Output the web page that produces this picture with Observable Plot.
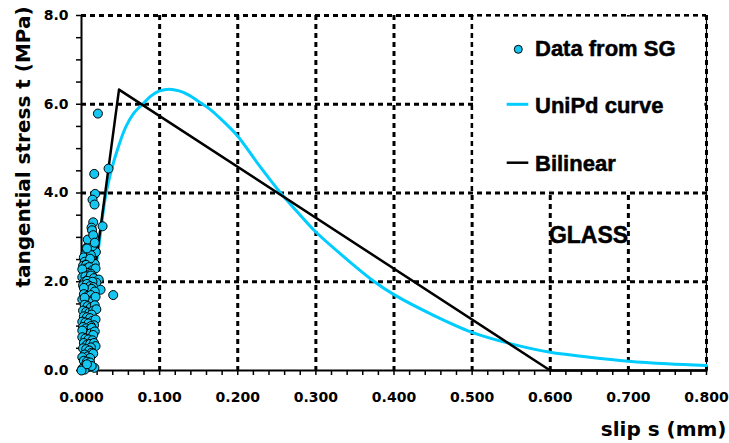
<!DOCTYPE html>
<html><head><meta charset="utf-8">
<script src="https://cdn.jsdelivr.net/npm/d3@7"></script>
<script src="https://cdn.jsdelivr.net/npm/@observablehq/plot@0.6"></script>
<style>body{margin:0;background:#fff}</style>
</head><body><div id="chart"></div>
<script>
// Tick values / labels
const xMajor = [0, 0.1, 0.2, 0.3, 0.4, 0.5, 0.6, 0.7, 0.8];
const yMajor = [0, 2, 4, 6, 8];
const xMinor = d3.range(0, 41).map(i => i * 0.02);
const yMinor = d3.range(0, 17).map(i => i * 0.5);
const xTitle = "slip s (mm)";
const yTitle = "tangential stress t (MPa)";
const legendLabels = ["Data from SG", "UniPd curve", "Bilinear"];
const panelLabel = "GLASS";

// UniPd curve
const uniS = [0, 0.005, 0.01, 0.015, 0.02, 0.025, 0.031, 0.038, 0.047, 0.057, 0.067, 0.078, 0.09, 0.1, 0.112, 0.125, 0.138, 0.15, 0.165, 0.18, 0.2, 0.225, 0.255, 0.28, 0.3, 0.34, 0.375, 0.4, 0.45, 0.5, 0.55, 0.6, 0.65, 0.7, 0.75, 0.8];
const uniT = [0, 0.6, 1.2, 1.85, 2.5, 3.2, 3.95, 4.5, 5.03, 5.5, 5.8, 6.0, 6.2, 6.3, 6.34, 6.3, 6.2, 6.06, 5.88, 5.64, 5.28, 4.68, 4.0, 3.5, 3.12, 2.5, 2.0, 1.71, 1.25, 0.86, 0.6, 0.41, 0.3, 0.21, 0.15, 0.11];

// Bilinear
const biS = [0, 0.048, 0.6, 0.8];
const biT = [0, 6.33, 0, 0];

// Data from SG (slip, stress)
const sgS = [0.021,0.0346,0.0163,0.0175,0.0141,0.0167,0.027,0.015,0.0128,0.0135,0.0163,0.0064,0.012,0.0184,0.0098,
  0.005,0.010,0.014,0.008,0.015,0.003,0.012,0.017,0.007,
  0.004,0.008,0.013,0.017,0.002,0.011,0.006,
  0.006,0.010,0.014,0.003,0.018,0.008,0.012,0.001,
  0.001,0.005,0.009,0.012,0.016,0.022,0.004,0.019,0.007,0.014,
  0.002,0.007,0.011,0.015,0.0244,0.005,0.009,0.013,0.017,0.003,
  0.0406,
  0.003,0.008,0.012,0.016,0.001,0.006,0.010,0.014,0.004,0.018,
  0.004,0.008,0.012,0.017,0.002,0.006,0.010,0.015,0.019,0.013,
  0.003,0.007,0.011,0.014,0.001,0.005,0.009,0.018,0.016,0.012,
  0.002,0.006,0.010,0.013,0.004,0.008,0.012,0.017,0.015,0.001,
  0.001,0.005,0.009,0.014,0.003,0.007,0.011,0.016,0.018,0.012,
  0.002,0.006,0.010,0.013,0.004,0.008,0.015,0.001,0.011,
  0.003,0.007,0.011,0.005,0.009,0.001,0.004,0.0165,0.013,0.000,0.007];
const sgT = [5.79,4.55,4.43,3.98,3.85,3.74,3.25,3.34,3.22,3.16,2.97,2.76,2.71,2.67,2.55,
  2.62,2.85,2.80,2.95,3.05,2.55,2.60,2.88,2.75,
  2.45,2.42,2.48,2.40,2.36,2.52,2.38,
  2.30,2.33,2.26,2.22,2.30,2.20,2.18,2.28,
  2.10,2.12,2.06,2.14,2.08,2.05,2.00,1.98,2.02,2.00,
  1.92,1.95,1.90,1.88,1.82,1.82,1.80,1.84,1.78,1.86,
  1.70,
  1.72,1.68,1.70,1.62,1.60,1.58,1.55,1.56,1.64,1.66,
  1.48,1.45,1.42,1.47,1.35,1.32,1.30,1.35,1.38,1.26,
  1.22,1.20,1.18,1.12,1.10,1.08,1.06,1.15,1.02,1.00,
  0.98,0.95,0.92,0.96,0.85,0.82,0.84,0.88,0.80,0.90,
  0.75,0.72,0.70,0.68,0.62,0.58,0.60,0.62,0.55,0.52,
  0.50,0.48,0.45,0.40,0.36,0.32,0.38,0.30,0.28,
  0.22,0.20,0.18,0.12,0.08,0.04,0.02,0.06,0.10,0.00,0.14];

// Legend box extent (data units)
const legendBox = [{x1: 0.5, x2: 0.8, y1: 4, y2: 8}];

const uni = uniS.map((s, i) => ({s, t: uniT[i]}));
const bi = biS.map((s, i) => ({s, t: biT[i]}));
const sg = sgS.map((s, i) => ({s, t: sgT[i]}));

const isMultiple = (d, step) => Math.abs(d / step - Math.round(d / step)) < 1e-6;
const cyanLine = "#00CCFF";
const cyanDot = "#15C6F0";
const dash = "5,4";

const chart = Plot.plot({
  width: 729, height: 443,
  marginLeft: 81, marginRight: 23, marginTop: 15, marginBottom: 73,
  style: {fontFamily: "DejaVu Sans", fontWeight: "bold", fontSize: "14px", background: "white", color: "black"},
  x: {domain: [0, 0.8]},
  y: {domain: [0, 8]},
  marks: [
    Plot.ruleX(xMajor.slice(1), {stroke: "black", strokeWidth: 3, strokeDasharray: dash}),
    Plot.ruleY(yMajor.slice(1), {stroke: "black", strokeWidth: 3, strokeDasharray: dash}),
    Plot.rect(legendBox, {x1: "x1", x2: "x2", y1: "y1", y2: "y2", fill: "white", insetLeft: 1.6, insetRight: 1.6, insetTop: 1.6, insetBottom: 1.6}),
    Plot.ruleX([0.8], {stroke: "black", strokeWidth: 1.2}),
    Plot.axisX({ticks: xMinor, tickFormat: d => isMultiple(d, 0.1) ? d.toFixed(3) : "", tickSize: 5, tickPadding: 17, strokeWidth: 1.5, label: null}),
    Plot.axisY({ticks: yMinor, tickFormat: d => isMultiple(d, 2) ? d.toFixed(1) : "", tickSize: 5, tickPadding: 8, strokeWidth: 1.5, label: null}),
    Plot.line(uni, {x: "s", y: "t", stroke: cyanLine, strokeWidth: 3, curve: "catmull-rom"}),
    Plot.line(bi, {x: "s", y: "t", stroke: "black", strokeWidth: 2.5}),
    Plot.ruleX([0], {stroke: "black", strokeWidth: 2}),
    Plot.ruleY([0], {stroke: "black", strokeWidth: 2}),
    Plot.dot(sg, {x: "s", y: "t", r: 4.5, fill: cyanDot, stroke: "black", strokeWidth: 1}),
    Plot.text([xTitle], {text: d => d, frameAnchor: "bottom-right", dx: 20, dy: 65, fontSize: 20, textAnchor: "end", lineAnchor: "bottom"}),
    Plot.text([yTitle], {text: d => d, frameAnchor: "left", rotate: -90, dx: -52, dy: -46, fontSize: 20, textAnchor: "middle", lineAnchor: "bottom"})
  ]
});

// Legend (inside plot area)
const svg = d3.select(chart);
const lf = "'Liberation Sans', Arial, sans-serif";
svg.append("circle").attr("cx", 518.3).attr("cy", 49.3).attr("r", 4).attr("fill", cyanDot).attr("stroke", "black");
svg.append("line").attr("x1", 506.7).attr("x2", 528.3).attr("y1", 104.3).attr("y2", 104.3).attr("stroke", cyanLine).attr("stroke-width", 3);
svg.append("line").attr("x1", 506.7).attr("x2", 528.3).attr("y1", 162.7).attr("y2", 162.7).attr("stroke", "black").attr("stroke-width", 2.5);
[56, 112.7, 171].forEach((y, i) => {
  svg.append("text").attr("x", 535).attr("y", y)
    .style("text-anchor", "start").style("font-family", lf).style("font-weight", "700").style("font-size", "22px")
    .style("fill", "black").style("stroke", "black").style("stroke-width", "0.5px")
    .text(legendLabels[i]);
});
svg.append("text").attr("x", 588.5).attr("y", 242.7)
  .style("text-anchor", "middle").style("font-family", lf).style("font-weight", "700").style("font-size", "23px")
  .style("fill", "black").style("stroke", "black").style("stroke-width", "0.5px")
  .text(panelLabel);

document.getElementById("chart").appendChild(chart);
</script>
</body></html>
